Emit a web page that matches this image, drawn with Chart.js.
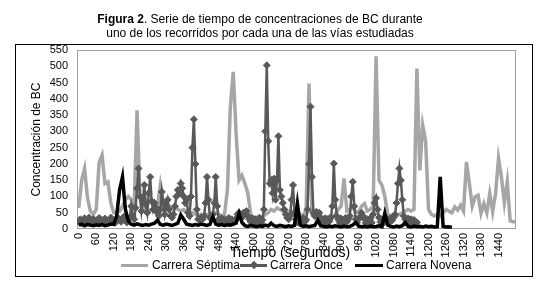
<!DOCTYPE html>
<html>
<head>
<meta charset="utf-8">
<script src="https://cdn.jsdelivr.net/npm/chart.js@4.4.1/dist/chart.umd.min.js"></script>
<style>
  body { margin: 0; background: #fff; font-family: Arial, "Liberation Sans", sans-serif; color: #000; }
  #wrap { position: relative; width: 553px; height: 287px; overflow: hidden; }
  #marco { position: absolute; left: 15px; top: 44px; width: 518px; height: 233px; box-sizing: border-box; border: 1px solid #000; }
  #grafico { position: absolute; left: 0; top: 0; }
  #titulo { position: absolute; left: 0; top: 12px; width: 520px; text-align: center; font-size: 12px; line-height: 14px; }
  #ejeX { position: absolute; left: 230px; top: 244px; font-size: 14px; line-height: 17px; white-space: nowrap; }
  .ley { position: absolute; top: 258px; font-size: 12px; line-height: 14px; white-space: nowrap; }
  .linea { position: absolute; height: 3px; top: 264px; }
  .rombo { position: absolute; width: 6px; height: 6px; top: 262px; background: #595959; transform: rotate(45deg); }
</style>
</head>
<body>
<div id="wrap">
  <div id="marco"></div>
  <canvas id="grafico" width="553" height="287"></canvas>
  <div id="titulo"><b>Figura 2</b>. Serie de tiempo de concentraciones de BC durante<br>uno de los recorridos por cada una de las vías estudiadas</div>
  <div id="ejeX">Tiempo (segundos)</div>
  <div class="linea" style="left:121px;width:27px;background:#a6a6a6"></div>
  <div class="ley" style="left:152px">Carrera Séptima</div>
  <div class="linea" style="left:240px;width:27px;background:#595959"></div>
  <div class="rombo" style="left:251px"></div>
  <div class="ley" style="left:270px">Carrera Once</div>
  <div class="linea" style="left:355px;width:28px;background:#000"></div>
  <div class="ley" style="left:386px">Carrera Novena</div>
</div>
<script>
// BC cada 10 s, Carrera Séptima (0 a 1500 s)
var septima = [
  65, 150, 186, 95, 55, 45, 60, 205, 227, 140,
  145, 80, 50, 50, 55, 70, 90, 100, 90, 65,
  365, 100, 70, 60, 55, 60, 55, 70, 135, 80,
  75, 70, 65, 70, 60, 55, 60, 50, 45, 50,
  45, 40, 45, 40, 45, 40, 45, 50, 45, 40,
  45, 120, 375, 483, 290, 150, 165, 140, 110, 45,
  35, 35, 40, 35, 45, 50, 60, 55, 65, 60,
  55, 60, 50, 55, 45, 50, 45, 40, 60, 447,
  45, 35, 30, 35, 30, 35, 40, 35, 45, 60,
  70, 155, 55, 60, 65, 55, 50, 70, 78, 55,
  60, 70, 531, 150, 135, 100, 45, 40, 45, 40,
  45, 50, 55, 60, 55, 60, 493, 180, 319, 270,
  60, 45, 40, 45, 40, 50, 60, 55, 50, 68,
  58, 73, 55, 206, 140, 70, 99, 104, 48, 78,
  50, 109, 53, 110, 217, 160, 80, 145, 25, 22,
  22
];

// BC cada 5 s, Carrera Once (0 a 1160 s)
var once = [
  22, 30, 18, 26, 33, 20, 28, 35, 19, 24, 31, 25,
  18, 29, 34, 22, 27, 17, 32, 24, 20, 30, 35, 23,
  28, 19, 25, 33, 30, 22, 32, 38, 27, 20, 30, 35,
  70, 40, 30, 65, 125, 186, 100, 55, 90, 135, 75, 50,
  110, 160, 85, 60, 80, 65, 50, 40, 60, 114, 80, 45,
  70, 90, 60, 40, 35, 45, 70, 100, 120, 110, 140, 125,
  100, 80, 90, 50, 40, 100, 250, 337, 200, 60, 30, 28,
  35, 30, 40, 80, 160, 90, 35, 30, 45, 80, 160, 70,
  30, 22, 33, 18, 30, 26, 20, 34, 25, 30, 19, 28,
  30, 45, 50, 40, 35, 50, 45, 55, 40, 30, 22, 33,
  18, 30, 22, 28, 34, 20, 28, 60, 300, 503, 270, 140,
  150, 110, 155, 90, 150, 285, 120, 100, 80, 60, 45, 35,
  30, 40, 90, 135, 50, 30, 20, 33, 18, 28, 34, 22,
  28, 60, 200, 376, 160, 50, 40, 53, 45, 50, 35, 30,
  22, 33, 18, 30, 24, 35, 70, 201, 90, 40, 30, 20,
  32, 18, 28, 34, 22, 30, 40, 100, 145, 70, 30, 20,
  33, 35, 50, 40, 30, 18, 30, 24, 33, 19, 45, 80,
  95, 60, 35, 22, 30, 18, 32, 24, 30, 19, 33, 27,
  35, 45, 80, 140, 186, 150, 90, 40, 30, 20, 32, 18,
  30, 22, 28, 18, 20
];

// BC cada 10 s, Carrera Novena (0 a 1280 s)
var novena = [
  12, 15, 10, 14, 12, 10, 13, 11, 14, 10,
  12, 15, 14, 40, 120, 160, 60, 25, 15, 12,
  16, 13, 11, 14, 12, 15, 18, 27, 14, 12,
  15, 13, 11, 14, 18, 43, 30, 15, 13, 11,
  14, 12, 15, 13, 11, 14, 37, 15, 12, 14,
  11, 13, 12, 15, 18, 48, 20, 10, 8, 11,
  9, 7, 10, 8, 12, 9, 18, 10, 8, 11,
  9, 7, 10, 8, 11, 79, 12, 8, 10, 7,
  9, 11, 27, 10, 8, 6, 9, 7, 10, 8,
  6, 9, 7, 8, 12, 20, 9, 7, 8, 6,
  9, 7, 8, 10, 7, 48, 12, 8, 6, 9,
  7, 10, 20, 8, 6, 9, 7, 8, 6, 9,
  7, 8, 6, 7, 160, 8, 6, 7, 5
];

// tiempos (s) de cada muestra
var tiempo10 = septima.map(function (v, i) { return i * 10; });
var tiempo5 = once.map(function (v, i) { return i * 5; });

var paso = 60;          // etiquetas del eje x cada 60 s
var ultimaEtiqueta = 1440;

function puntos(tiempos, valores) {
    return valores.map(function (v, i) { return { x: tiempos[i], y: v }; });
}

var bordePlot = {
    id: "bordePlot",
    beforeDatasetsDraw: function (chart) {
        var a = chart.chartArea, ctx = chart.ctx;
        ctx.save();
        ctx.strokeStyle = "#a0a0a0";
        ctx.lineWidth = 1;
        ctx.strokeRect(a.left + 0.5, a.top + 0.5, a.right - a.left - 1, a.bottom - a.top - 1);
        ctx.restore();
    }
};

Chart.defaults.font.family = 'Arial, "Liberation Sans", sans-serif';
Chart.defaults.color = "#000";

var ctx = document.getElementById("grafico").getContext("2d");
new Chart(ctx, {
    type: "line",
    data: {
        datasets: [{
            label: "Carrera Séptima",
            data: puntos(tiempo10, septima),
            borderColor: "#a6a6a6",
            borderWidth: 3.5,
            pointRadius: 0,
            order: 3
        }, {
            label: "Carrera Once",
            data: puntos(tiempo5, once),
            borderColor: "#595959",
            borderWidth: 2.5,
            pointStyle: "rectRot",
            pointRadius: 3.5,
            pointBackgroundColor: "#595959",
            pointBorderColor: "#595959",
            pointBorderWidth: 1,
            order: 2
        }, {
            label: "Carrera Novena",
            data: puntos(tiempo10, novena),
            borderColor: "#000",
            borderWidth: 3.5,
            pointRadius: 0,
            order: 1
        }]
    },
    options: {
        responsive: false,
        animation: false,
        layout: { padding: { left: 24, right: 37, top: 50, bottom: 0 } },
        plugins: {
            legend: { display: false },
            tooltip: { enabled: false }
        },
        scales: {
            x: {
                type: "linear",
                min: -6,
                max: 1500,
                grid: { display: false, drawTicks: false },
                border: { display: false },
                ticks: {
                    stepSize: paso,
                    autoSkip: false,
                    includeBounds: false,
                    minRotation: 90,
                    maxRotation: 90,
                    padding: 4,
                    font: { size: 11 },
                    callback: function (v) { return String(v); }
                },
                afterBuildTicks: function (scale) {
                    scale.ticks = scale.ticks.filter(function (t) {
                        return t.value >= 0 && t.value <= ultimaEtiqueta && t.value % paso === 0;
                    });
                },
                afterFit: function (scale) { scale.height = 58; }
            },
            y: {
                min: 0,
                max: 550,
                grid: { display: false, drawTicks: false },
                border: { display: false },
                ticks: { stepSize: 50, padding: 9, font: { size: 11 } },
                title: {
                    display: true,
                    text: "Concentración de BC",
                    font: { size: 12 },
                    padding: { top: 5, bottom: 0 }
                },
                afterFit: function (scale) { scale.width = 53; }
            }
        }
    },
    plugins: [bordePlot]
});
</script>
</body>
</html>
